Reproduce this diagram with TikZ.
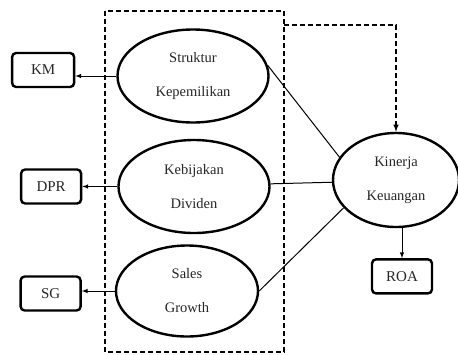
\documentclass[tikz,border=0pt]{standalone}
\usepackage{fontspec}
\setmainfont{Liberation Serif}
\newfontfamily\lblfont{Liberation Serif}
\usetikzlibrary{shapes, positioning, arrows, calc}

\tikzset{
    var/.style={ellipse, draw, line width=2.4pt, minimum width=151pt, minimum height=93pt,
        inner sep=0pt, align=center, text=black!85, font=\lblfont\fontsize{14.5}{34}\selectfont},
    ind/.style={rectangle, draw, line width=2.4pt, rounded corners=4pt, minimum width=60pt,
        minimum height=34pt, inner sep=0pt, text=black!85, font=\lblfont\fontsize{15}{18}\selectfont},
    link/.style={line width=1pt},
    tobox/.style={->, >=latex, line width=1pt},
    dashline/.style={dash pattern=on 5pt off 3pt, line width=1.5pt}
}

\begin{document}
\begin{tikzpicture}[x=1pt, y=-1pt]
\useasboundingbox (0,0) rectangle (458,354);

\node[var] (sk) at (193,76) {Struktur\\Kepemilikan} ;
\node[var] (kb) at (194,186.5) {Kebijakan\\Dividen} ;
\node[var, minimum width=142pt, minimum height=91pt] (sg) at (187,291) {Sales\\Growth} ;
\node[var, minimum width=126pt, minimum height=94pt] (kin) at (396,180) {Kinerja\\Keuangan} ;

\node[ind, minimum width=62pt] (km) [left=41pt of sk, yshift=6pt] {KM};
\node[ind] (dpr) [left=35pt of kb] {DPR};
\node[ind] (sgi) [left=33pt of sg, yshift=-2.5pt] {SG};
\node[ind] (roa) [below=30pt of kin, xshift=6pt] {ROA};

\draw[tobox] (sk.west) -- (sk.west -| km.east);
\draw[tobox] (kb.west) -- (kb.west -| dpr.east);
\draw[tobox] (sg.west) -- (sg.west -| sgi.east);
\draw[tobox] (kin.south -| roa.north) -- (roa.north);

\draw[link] (sk.8) -- (kin.158);
\draw[link] (kb.2) -- (kin.182);
\draw[link] (sg.east) -- (kin.208);

\draw[dashline] (105,11) rectangle (284,352);
\coordinate (bx) at (284,25);
\draw[dashline, ->, >=latex] (bx) -| (kin.north);

\end{tikzpicture}
\end{document}
